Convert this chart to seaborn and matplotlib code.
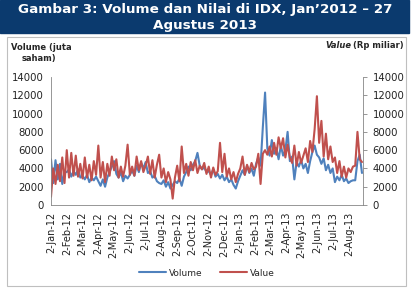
import matplotlib
matplotlib.use("Agg")
import matplotlib.pyplot as plt
import matplotlib.dates as mdates
from matplotlib.patches import Rectangle
import pandas as pd
import seaborn as sns

# approx. twice-weekly readings, Jan 2012 - 27 Aug 2013 (7 per month, 6 in Aug 2013)
volume = [
    5000, 2400, 4900, 2800, 4500, 2300, 3600,
    3600, 3900, 3100, 3700, 3300, 3900, 3000,
    3200, 2800, 3300, 2500, 3000, 2700, 3100,
    2600, 2100, 2800, 2000, 3000, 3600, 4200,
    4800, 3400, 3000, 3600, 2600, 3200, 2900,
    3300, 3800, 3200, 4300, 3600, 4600, 4000,
    4700, 3500, 3700, 3000, 3200, 2600, 2400,
    2300, 2700, 2000, 2500, 1800, 2200, 2600,
    2400, 2900, 2100, 3100, 3600, 4200, 3800,
    4400, 4800, 5700, 4300, 3900, 4100, 3600,
    3700, 3300, 3900, 3100, 3400, 2900, 3300,
    2700, 3100, 2500, 2800, 2200, 1800, 2600,
    3200, 3800, 3300, 4300, 3500, 4000, 3200,
    4500, 5200, 4300, 8500, 12300, 6200, 5400,
    7100, 5600, 6200, 5000, 6500, 5400, 6000,
    8000, 4800, 5300, 2800, 4700, 4200, 4900,
    4000, 4500, 3500, 4800, 5800, 6500, 5500,
    5200, 4500, 5100, 3800, 4400, 3500, 4000,
    2500, 3100, 2700, 3300, 2600, 2900, 2400,
    2600, 2700, 2700, 4800, 5500, 3500,
]
value = [
    900, 4000, 2300, 4400, 2600, 5200, 2400,
    6000, 3000, 5700, 3200, 5400, 3100, 4500,
    2900, 5200, 3000, 4400, 2700, 4800, 3300,
    6500, 3000, 4700, 2500, 4500, 3200, 5300,
    3800, 5000, 3000, 4200, 3100, 4300, 6600,
    3300, 4200, 3200, 5300, 3800, 4800, 3600,
    4300, 5300, 3400, 4900, 3000, 4400, 5500,
    3000, 4000, 2500, 3600, 2800, 700, 3000,
    4300, 2600, 6400, 3500, 4500, 3200, 4700,
    3800, 4900, 3500, 4300, 3900, 4600, 3400,
    4200, 3000, 4100, 3300, 3700, 6800, 3600,
    5600, 3100, 4000, 2800, 3600, 2500, 3400,
    4000, 5300, 3300, 4400, 3600, 4600, 3900,
    4200, 5600, 2300, 5600, 6000, 5500, 6400,
    5300, 6800, 5500, 7400, 6200, 7300, 5200,
    6600, 5200, 4600, 6500, 4300, 5800, 4600,
    5400, 6200, 4700, 7000, 5800, 8300, 11900,
    6800, 9200, 5300, 7800, 5000, 6400, 4700,
    5200, 3500, 4800, 3100, 4200, 3000, 4000,
    3600, 4200, 4300, 8000, 5000, 4700,
]
dates = pd.date_range("2012-01-02", "2013-08-27", periods=len(volume))
month_ticks = pd.date_range("2012-01-01", "2013-08-01", freq="MS") + pd.Timedelta(days=1)

df = pd.DataFrame({"date": dates, "Volume": volume, "Value": value})
long = df.melt(id_vars="date", var_name="series", value_name="v")

sns.set_style("white")
plt.rcParams["font.family"] = ["DejaVu Sans"]

W, H = 413, 289
fig = plt.figure(figsize=(W / 100, H / 100), dpi=100)

# title band and frame
fig.add_artist(Rectangle((0, 1 - 33 / H), 409 / W, 33 / H, transform=fig.transFigure,
                         color="#0b3a6e", zorder=0))
fig.text(205 / W, 1 - 10 / H, "Gambar 3: Volume dan Nilai di IDX, Jan\u20192012 \u2013 27",
         color="white", fontsize=9.7, fontweight="bold", ha="center", va="center")
fig.text(205 / W, 1 - 25 / H, "Agustus 2013",
         color="white", fontsize=9.7, fontweight="bold", ha="center", va="center")
fig.add_artist(Rectangle((7 / W, 1 - 286 / H), 399 / W, 249 / H, transform=fig.transFigure,
                         fill=False, edgecolor="#bfbfbf", lw=0.8))

ax = fig.add_axes([51 / W, 1 - 205 / H, 312 / W, 128 / H])
sns.lineplot(data=long, x="date", y="v", hue="series", palette=["#4f81bd", "#c0504d"],
             linewidth=1.5, ax=ax, legend=False)
ax.set_ylim(0, 14000)
ax.set_xlim(pd.Timestamp("2012-01-02"), pd.Timestamp("2013-08-29"))
ax.set_yticks(range(0, 14001, 2000))
ax.set_xticks(month_ticks)
ax.xaxis.set_major_formatter(mdates.DateFormatter("%-d-%b-%y"))
ax.tick_params(axis="x", rotation=90, labelsize=7, length=3, width=0.6,
               color="#868686", direction="out", pad=2, labelcolor="#222222")
ax.tick_params(axis="y", labelsize=7.3, length=0, pad=5, labelcolor="#222222")
ax.set_xlabel("")
ax.set_ylabel("")
for s in ["top", "right"]:
    ax.spines[s].set_visible(False)
for s in ["left", "bottom"]:
    ax.spines[s].set_color("#868686")
    ax.spines[s].set_linewidth(0.6)

ax2 = ax.twinx()
ax2.set_ylim(0, 14000)
ax2.set_yticks(range(0, 14001, 2000))
ax2.tick_params(axis="y", labelsize=7.3, length=3, width=0.6, color="#868686", pad=4,
                labelcolor="#222222")
for s in ["top", "left", "bottom"]:
    ax2.spines[s].set_visible(False)
ax2.spines["right"].set_color("#868686")
ax2.spines["right"].set_linewidth(0.6)

fig.text(11 / W, 1 - 47 / H, "Volume (juta", fontsize=6, fontweight="bold", va="center")
fig.text(22 / W, 1 - 59 / H, "saham)", fontsize=6, fontweight="bold", va="center")
fig.text(404 / W, 1 - 46 / H, "(Rp miliar)", fontsize=6, fontweight="bold",
         va="center", ha="right")
fig.text(351 / W, 1 - 46 / H, "Value", fontsize=6, fontweight="bold", style="italic",
         va="center", ha="right")

handles = [plt.Line2D([], [], color="#4f81bd", lw=1.5),
           plt.Line2D([], [], color="#c0504d", lw=1.5)]
fig.legend(handles, ["Volume", "Value"], loc="center", bbox_to_anchor=(207 / W, 1 - 273 / H),
           ncol=2, frameon=False, fontsize=6.5, handlelength=3, columnspacing=2,
           handletextpad=0.3)

fig.savefig("out.png", dpi=100)
